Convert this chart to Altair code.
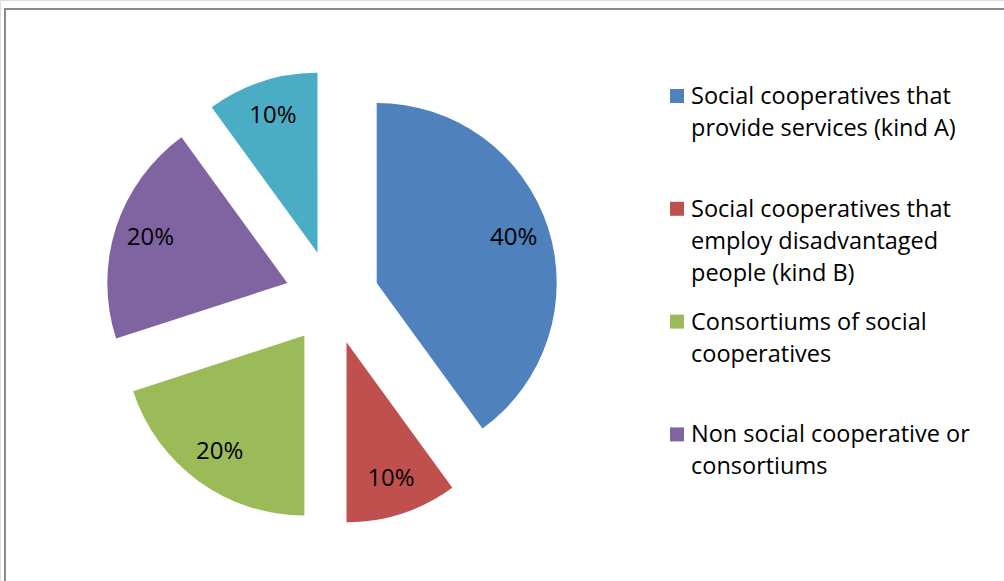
import altair as alt
import pandas as pd

categories = [
    "Social cooperatives that provide services (kind A)",
    "Social cooperatives that employ disadvantaged people (kind B)",
    "Consortiums of social cooperatives",
    "Non social cooperative or consortiums",
    "Other",
]
values = [40, 10, 20, 20, 10]
labels = ["40%", "10%", "20%", "20%", "10%"]
colors = ["#4F81BD", "#C0504D", "#9BBB59", "#8064A2", "#4BACC6"]
legend_lines = [
    ["Social cooperatives that", "provide services (kind A)"],
    ["Social cooperatives that", "employ disadvantaged", "people (kind B)"],
    ["Consortiums of social", "cooperatives"],
    ["Non social cooperative or", "consortiums"],
]

FONT = "Open Sans"

pie_df = pd.DataFrame({
    "category": categories,
    "value": values,
    "label": labels,
    "order": list(range(len(categories))),
})

leg_df = pd.DataFrame({
    "category": categories[:4],
    "lines": legend_lines,
    "idx": list(range(4)),
})

color_scale = alt.Scale(domain=categories, range=colors)

base = (
    alt.Chart(pie_df)
    .transform_window(cum="sum(value)", sort=[alt.SortField("order", order="ascending")], frame=[None, 0])
    .transform_joinaggregate(total="sum(value)")
    .transform_calculate(t0="2*PI*(datum.cum-datum.value)/datum.total")
    .transform_calculate(t1="2*PI*datum.cum/datum.total")
    .transform_calculate(mid="(datum.t0+datum.t1)/2")
    .transform_calculate(px="332 + 47*sin(datum.mid)")
    .transform_calculate(py="297.5 - 47*cos(datum.mid)")
    .transform_calculate(lx="datum.px + 144*sin(datum.mid)")
    .transform_calculate(ly="datum.py - 144*cos(datum.mid)")
)

arcs = base.mark_arc(radius=180).encode(
    theta=alt.Theta("t0:Q", scale=None, stack=None),
    theta2="t1:Q",
    x=alt.X("px:Q", scale=None, axis=None),
    y=alt.Y("py:Q", scale=None, axis=None),
    color=alt.Color("category:N", scale=color_scale, legend=None),
)

pct = base.mark_text(font=FONT, fontSize=24, color="black").encode(
    x=alt.X("lx:Q", scale=None, axis=None),
    y=alt.Y("ly:Q", scale=None, axis=None),
    text="label:N",
)

leg_base = alt.Chart(leg_df).transform_calculate(
    sy="96 + datum.idx*112.8", ty="104 + datum.idx*112.8"
)

leg_sq = leg_base.mark_square(size=196, opacity=1).encode(
    x=alt.value(677),
    y=alt.Y("sy:Q", scale=None, axis=None),
    color=alt.Color("category:N", scale=color_scale, legend=None),
)

leg_txt = leg_base.mark_text(
    font=FONT, fontSize=23.5, color="black", align="left", baseline="alphabetic", lineHeight=32
).encode(
    x=alt.value(691),
    y=alt.Y("ty:Q", scale=None, axis=None),
    text="lines:N",
)

frame_df = pd.DataFrame({"a": [0]})
top_rule = alt.Chart(frame_df).mark_rule(color="#8a8a8a", strokeWidth=2).encode(
    x=alt.value(4), x2=alt.value(1004), y=alt.value(9)
)
left_rule = alt.Chart(frame_df).mark_rule(color="#8a8a8a", strokeWidth=2).encode(
    x=alt.value(5), y=alt.value(8), y2=alt.value(581)
)

chart = (
    alt.layer(top_rule, left_rule, arcs, pct, leg_sq, leg_txt)
    .properties(width=1004, height=581, padding=0, autosize=alt.AutoSizeParams(type="none"))
    .configure_view(stroke=None)
    .configure(background="white")
)

chart.save("out.html", embed_options={"renderer": "svg", "actions": False})
